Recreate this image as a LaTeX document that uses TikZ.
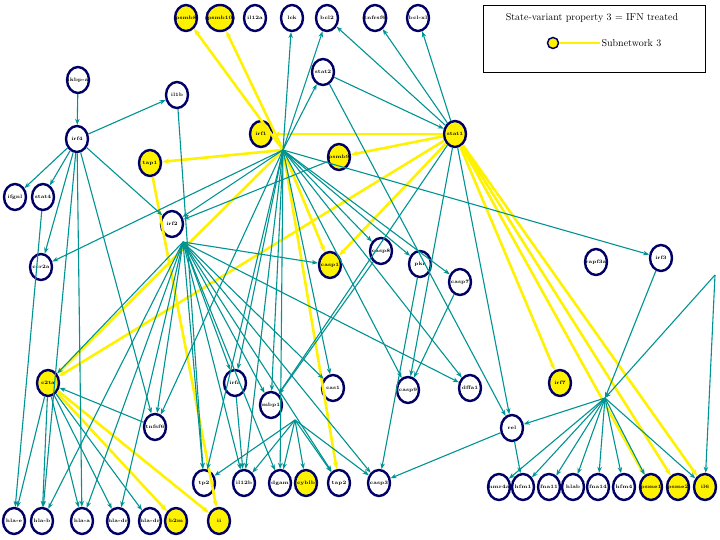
\documentclass[tikz,border=0pt]{standalone}
\usetikzlibrary{arrows.meta,shapes.geometric}
\begin{document}
\begin{tikzpicture}[x=1pt,y=-1pt,
 gn/.style={ellipse,draw=blue!40!black,line width=2.4pt,fill=white,minimum width=22pt,minimum height=26pt,inner xsep=-3pt,inner ysep=0pt,font=\fontsize{5}{5}\selectfont\bfseries},
 yn/.style={gn,fill=yellow},
 te/.style={draw=teal!85!cyan,line width=1.1pt,-{Stealth[length=6pt]}},
 ye/.style={draw=yellow,line width=2.6pt,-{Stealth[length=7pt]}}]
\useasboundingbox (0,0) rectangle (720,540);
\node[yn] (psmb8) at (186,18) {psmb8};
\node[yn] (psmb10) at (220,18) {psmb10};
\node[gn] (il12a) at (255,18) {il12a};
\node[gn] (lck) at (292,18) {lck};
\node[gn] (bcl2) at (327,18) {bcl2};
\node[gn] (tnfrsf6) at (375,18) {tnfrsf6};
\node[gn] (bclxl) at (418,18) {bcl-xl};
\node[gn] (stat2) at (323,72) {stat2};
\node[gn] (ikbp) at (78,80) {ikbp-a};
\node[gn] (il1b) at (177,95) {il1b};
\node[gn] (irf4) at (77,139) {irf4};
\node[yn] (irf1) at (261,134) {irf1};
\node[yn] (stat1) at (455,134) {stat1};
\node[yn] (psmb9) at (339,157) {psmb9};
\node[yn] (tap1) at (150,163) {tap1};
\node[gn] (ifgnl) at (15,197) {ifgnl};
\node[gn] (stat4) at (43,197) {stat4};
\node[gn] (irf2) at (172,224) {irf2};
\node[gn] (ccr2a) at (41,267) {ccr2a};
\node[yn] (casp1) at (330,265) {casp1};
\node[gn] (casp8) at (381,251) {casp8};
\node[gn] (pkr) at (420,264) {pkr};
\node[gn] (casp7) at (460,282) {casp7};
\node[gn] (rapf) at (596,262) {rapf3a};
\node[gn] (irf3) at (661,258) {irf3};
\node[yn] (c2ta) at (48,383) {c2ta};
\node[gn] (irfa) at (235,383) {irfa};
\node[gn] (mbp1) at (271,405) {mbp1};
\node[gn] (cas1) at (333,388) {cas1};
\node[gn] (casp9) at (408,390) {casp9};
\node[gn] (dffa) at (470,388) {dffa1};
\node[yn] (irf7) at (560,383) {irf7};
\node[gn] (tnfsf6) at (155,427) {tnfsf6};
\node[gn] (rel) at (512,428) {rel};
\node[gn] (tp2) at (204,483) {tp2};
\node[gn] (il12b) at (244,483) {il12b};
\node[gn] (dgam) at (280,483) {dgam};
\node[yn] (cyblb) at (306,483) {cyblb};
\node[gn] (tap2) at (339,483) {tap2};
\node[gn] (casp3) at (379,483) {casp3};
\node[gn] (hmr) at (499,487) {hmr4a};
\node[gn] (hfm1) at (523,487) {hfm1};
\node[gn] (fna11) at (549,487) {fna11};
\node[gn] (hlab2) at (573,487) {hlab};
\node[gn] (fna14) at (598,487) {fna14};
\node[gn] (hfm4) at (624,487) {hfm4};
\node[yn] (psme1) at (651,487) {psme1};
\node[yn] (psme2) at (678,487) {psme2};
\node[yn] (il6) at (705,487) {il6};
\node[gn] (hlax) at (14,521) {hla-e};
\node[gn] (hlab) at (42,521) {hla-b};
\node[gn] (hlaa) at (82,521) {hla-a};
\node[gn] (hladr) at (118,521) {hla-dr};
\node[gn] (hladq) at (150,521) {hla-dr};
\node[yn] (b2m) at (176,521) {b2m};
\node[yn] (ii) at (219,521) {ii};
\coordinate (h1) at (283,150);
\coordinate (h2) at (183,242);
\coordinate (h3) at (605,398);
\coordinate (h4) at (295,420);
\coordinate (h5) at (715,275);
% legend
\draw (483,5) rectangle (705,72);
\node[font=\fontsize{10}{11}\selectfont] (lt) at (592,18) {State-variant property 3 = IFN treated};
\node[yn,minimum width=11pt,minimum height=11pt,line width=1.5pt] (lc) at (553,43) {};
\coordinate (le) at (600,43);
\draw[draw=yellow,line width=2.4pt] (lc) -- (le);
\node[font=\fontsize{10}{11}\selectfont,anchor=west] (ls) at (598,43) {Subnetwork 3};
% yellow edges
\draw[ye] (h1) -- (psmb8);
\draw[ye] (h1) -- (psmb10);
\draw[ye] (stat1) -- (irf1);
\draw[ye] (stat1) -- (psmb9);
\draw[ye] (h1) -- (tap1);
\draw[ye] (h1) -- (casp1);
\draw[ye] (h1) -- (c2ta);
\draw[ye] (stat1) -- (c2ta);
\draw[ye] (stat1) -- (casp1);
\draw[ye] (stat1) -- (irf7);
\draw[ye] (stat1) -- (psme1);
\draw[ye] (stat1) -- (psme2);
\draw[ye] (stat1) -- (il6);
\draw[ye] (tap1) -- (ii);
\draw[ye] (c2ta) -- (b2m);
\draw[ye] (c2ta) -- (ii);
\draw[ye] (h1) -- (tap2);
% teal edges
\foreach \t in {lck,bcl2,irf2,casp8,pkr,casp7,irf3,irfa,tnfsf6,tp2,il12b,dgam,cas1,mbp1,dffa,casp9,ccr2a} \draw[te] (h1) -- (\t);
\draw[te] (h1) -- (stat2);
\draw[te] (stat1) -- (bcl2);
\draw[te] (stat1) -- (tnfrsf6);
\draw[te] (stat1) -- (bclxl);
\draw[te] (stat2) -- (stat1);
\draw[te] (stat2) -- (rel);
\draw[te] (stat1) -- (rel);
\draw[te] (stat1) -- (mbp1);
\draw[te] (stat1) -- (casp9);
\draw[te] (psmb9) -- (irf2);
\draw[te] (ikbp) -- (irf4);
\draw[te] (irf4) -- (ifgnl);
\draw[te] (irf4) -- (stat4);
\draw[te] (irf4) -- (il1b);
\draw[te] (irf4) -- (irf2);
\draw[te] (irf4) -- (hlab);
\draw[te] (irf4) -- (hlaa);
\draw[te] (irf4) -- (tnfsf6);
\draw[te] (irf4) -- (ccr2a);
\draw[te] (stat4) -- (hlax);
\draw[te] (il1b) -- (tp2);
\foreach \t in {c2ta,irfa,mbp1,tnfsf6,cas1,dffa,tp2,il12b,tap2,hlaa,hlab,hladr,casp3,casp1,dgam} \draw[te] (h2) -- (\t);
\foreach \t in {hlax,hlab,hlaa,hladr,hladq} \draw[te] (c2ta) -- (\t);
\draw[te] (tnfsf6) -- (c2ta);
\foreach \t in {hmr,hfm1,fna11,hlab2,fna14,hfm4,psme1,il6} \draw[te] (h3) -- (\t);
\draw[te] (h3) -- (rel);
\draw[te] (irf3) -- (h3);
\draw[te] (h5) -- (h3);
\draw[te] (h5) -- (il6);
\draw[te] (rel) -- (casp3);
\draw[te] (rel) -- (hfm1);
\foreach \t in {tp2,il12b,dgam,cyblb,tap2,casp3} \draw[te] (h4) -- (\t);
\draw[te] (casp8) -- (mbp1);
\draw[te] (pkr) -- (casp3);
\draw[te] (casp7) -- (casp9);
\draw[te] (irfa) -- (il12b);
\end{tikzpicture}
\end{document}
